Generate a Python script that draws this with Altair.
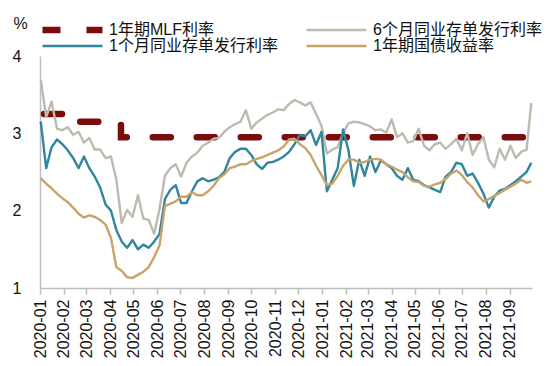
import altair as alt
import pandas as pd

# ---- data (weekly readings from the reference) ----
dates = [
    "2020-01-02", "2020-01-09", "2020-01-16", "2020-01-23", "2020-01-30",
    "2020-02-06", "2020-02-13", "2020-02-20", "2020-02-27",
    "2020-03-05", "2020-03-12", "2020-03-19", "2020-03-26",
    "2020-04-02", "2020-04-09", "2020-04-16", "2020-04-23", "2020-04-30",
    "2020-05-07", "2020-05-14", "2020-05-21", "2020-05-28",
    "2020-06-04", "2020-06-11", "2020-06-18", "2020-06-25",
    "2020-07-02", "2020-07-09", "2020-07-16", "2020-07-23", "2020-07-30",
    "2020-08-06", "2020-08-13", "2020-08-20", "2020-08-27",
    "2020-09-03", "2020-09-10", "2020-09-17", "2020-09-24",
    "2020-10-01", "2020-10-08", "2020-10-15", "2020-10-22", "2020-10-29",
    "2020-11-05", "2020-11-12", "2020-11-19", "2020-11-26",
    "2020-12-03", "2020-12-10", "2020-12-17", "2020-12-24", "2020-12-31",
    "2021-01-07", "2021-01-14", "2021-01-21", "2021-01-28",
    "2021-02-04", "2021-02-11", "2021-02-18", "2021-02-25",
    "2021-03-04", "2021-03-11", "2021-03-18", "2021-03-25",
    "2021-04-01", "2021-04-08", "2021-04-15", "2021-04-22", "2021-04-29",
    "2021-05-06", "2021-05-13", "2021-05-20", "2021-05-27",
    "2021-06-03", "2021-06-10", "2021-06-17", "2021-06-24",
    "2021-07-01", "2021-07-08", "2021-07-15", "2021-07-22", "2021-07-29",
    "2021-08-05", "2021-08-12", "2021-08-19", "2021-08-26",
    "2021-09-02", "2021-09-09", "2021-09-16", "2021-09-23", "2021-09-29",
]

ncd_6m = [
    3.69, 3.21, 3.41, 3.06, 3.04, 3.08, 2.98, 3.02, 2.88, 2.94,
    2.79, 2.79, 2.68, 2.70, 2.40, 1.84, 2.01, 1.92, 2.20, 1.90,
    1.88, 1.70, 2.02, 2.45, 2.55, 2.60, 2.44, 2.62, 2.70, 2.75,
    2.84, 2.88, 2.93, 2.94, 3.02, 3.08, 3.12, 3.15, 3.30, 3.06,
    3.14, 3.19, 3.24, 3.27, 3.31, 3.30, 3.38, 3.43, 3.40, 3.36,
    3.40, 3.25, 3.10, 2.74, 2.79, 2.82, 3.00, 3.13, 3.15, 3.14,
    3.12, 3.09, 3.04, 3.05, 3.01, 3.18, 2.95, 3.00, 2.88, 2.90,
    3.06, 2.84, 2.78, 2.86, 2.88, 2.80, 2.86, 2.93, 2.78, 3.00,
    2.72, 2.86, 2.95, 2.66, 2.56, 2.80, 2.66, 2.84, 2.68, 2.76,
    2.79, 3.39,
]

ncd_1m = [
    3.15, 2.55, 2.82, 2.92, 2.86, 2.78, 2.68, 2.55, 2.70, 2.55,
    2.44, 2.30, 2.08, 2.00, 1.75, 1.60, 1.52, 1.62, 1.50, 1.56,
    1.52, 1.60, 1.70, 2.15, 2.27, 2.33, 2.10, 2.10, 2.25, 2.38,
    2.42, 2.38, 2.40, 2.43, 2.50, 2.68, 2.76, 2.80, 2.80, 2.72,
    2.60, 2.54, 2.62, 2.63, 2.66, 2.70, 2.76, 2.86, 2.98, 2.96,
    3.04, 2.85, 3.02, 2.25, 2.40, 2.55, 3.05, 2.78, 2.32, 2.66,
    2.45, 2.70, 2.50, 2.65, 2.60, 2.55, 2.45, 2.40, 2.55, 2.40,
    2.38, 2.33, 2.30, 2.27, 2.24, 2.44, 2.50, 2.62, 2.60, 2.45,
    2.48, 2.36, 2.22, 2.04, 2.18, 2.26, 2.28, 2.33, 2.38, 2.44,
    2.50, 2.62,
]

cgb_1y = [
    2.42, 2.35, 2.29, 2.22, 2.16, 2.11, 2.04, 1.96, 1.91, 1.94,
    1.92, 1.88, 1.82, 1.65, 1.27, 1.22, 1.14, 1.13, 1.17, 1.21,
    1.27, 1.40, 1.55, 2.06, 2.09, 2.12, 2.18, 2.18, 2.24, 2.20,
    2.20, 2.25, 2.32, 2.42, 2.47, 2.55, 2.57, 2.60, 2.60, 2.64,
    2.67, 2.69, 2.72, 2.75, 2.78, 2.83, 2.92, 2.93, 2.86, 2.81,
    2.72, 2.58, 2.46, 2.33, 2.35, 2.45, 2.58, 2.66, 2.66, 2.62,
    2.63, 2.66, 2.67, 2.66, 2.60, 2.57, 2.53, 2.50, 2.43, 2.38,
    2.37, 2.32, 2.31, 2.34, 2.36, 2.41, 2.48, 2.52, 2.46, 2.37,
    2.30, 2.20, 2.12, 2.15, 2.19, 2.23, 2.27, 2.31, 2.35, 2.40,
    2.36, 2.38,
]

mlf_dates = ["2020-01-01", "2020-02-17", "2020-04-15", "2021-09-30"]
mlf_values = [3.25, 3.15, 2.95, 2.95]

names = ["1年期MLF利率", "6个月同业存单发行利率", "1个月同业存单发行利率", "1年期国债收益率"]
colors = ["#7B0C0C", "#BDBBAF", "#31859C", "#C8A46A"]
dashes = [[18, 26], [1, 0], [1, 0], [1, 0]]
widths = [6.5, 2.4, 2.4, 2.4]

tick_months = [(2020, m) for m in range(1, 13)] + [(2021, m) for m in range(1, 10)]

# ---- build long table ----
rows = [{"date": d, "value": v, "series": names[0]} for d, v in zip(mlf_dates, mlf_values)]
for name, vals in zip(names[1:], [ncd_6m, ncd_1m, cgb_1y]):
    rows += [{"date": d, "value": v, "series": name} for d, v in zip(dates, vals)]
df = pd.DataFrame(rows)

FONT = "Liberation Sans, Arial, Noto Sans CJK SC"
AXIS_GREY = "#BFBFBF"
TXT = "#111111"

x = alt.X(
    "date:T",
    title=None,
    scale=alt.Scale(
        type="utc",
        domain=[alt.DateTime(year=2020, month=1, date=1, utc=True),
                alt.DateTime(year=2021, month=9, date=30, utc=True)],
    ),
    axis=alt.Axis(
        values=[alt.DateTime(year=yy, month=mm, date=1, utc=True) for yy, mm in tick_months],
        format="%Y-%m", labelAngle=-90, labelAlign="right", labelBaseline="middle",
        labelFontSize=16, labelFont=FONT, labelColor=TXT, labelPadding=5,
        labelFlush=False, labelOverlap=False,
        tickSize=6, tickColor=AXIS_GREY, tickWidth=1.5,
        domainColor=AXIS_GREY, domainWidth=1.5, grid=False,
    ),
)

y = alt.Y(
    "value:Q",
    scale=alt.Scale(domain=[1, 4], nice=False, zero=False),
    axis=alt.Axis(
        values=[1, 2, 3, 4], format="d", grid=False, ticks=False,
        labelFontSize=16, labelFont=FONT, labelColor=TXT, labelPadding=19,
        domainColor=AXIS_GREY, domainWidth=1.5,
        title="%", titleAngle=0, titleX=-20, titleY=-33, titleAlign="center",
        titleBaseline="middle", titleFontSize=16, titleFontWeight="normal",
        titleFont=FONT, titleColor=TXT,
    ),
)

legend = alt.Legend(
    title=None, orient="none", legendX=-1, legendY=-34, direction="horizontal",
    columns=2, columnPadding=25, rowPadding=-1, clipHeight=16, padding=0,
    symbolType="stroke", symbolSize=3600, labelOffset=3,
    labelFontSize=16, labelFont=FONT, labelColor=TXT, labelLimit=300,
)

color = alt.Color("series:N", scale=alt.Scale(domain=names, range=colors), legend=legend)
dash = alt.StrokeDash("series:N", scale=alt.Scale(type="ordinal", domain=names, range=dashes), legend=legend)
sw = alt.StrokeWidth("series:N", scale=alt.Scale(type="ordinal", domain=names, range=widths), legend=legend)

base = alt.Chart(df).encode(x=x, y=y, color=color, strokeDash=dash, strokeWidth=sw)

mlf = base.transform_filter(alt.datum.series == names[0]).mark_line(
    interpolate="step-after", strokeCap="round", strokeDashOffset=-4
)
layers = [mlf] + [
    base.transform_filter(alt.datum.series == n).mark_line(strokeJoin="round")
    for n in names[1:]
]

chart = (
    alt.layer(*layers)
    .properties(
        width=492, height=232,
        autosize=alt.AutoSizeParams(type="none"),
        padding={"left": 32, "top": 48, "right": 10, "bottom": 70},
        background="white",
    )
    .configure_view(stroke=None)
)

chart.save("out.html", embed_options={"renderer": "svg", "actions": False})
